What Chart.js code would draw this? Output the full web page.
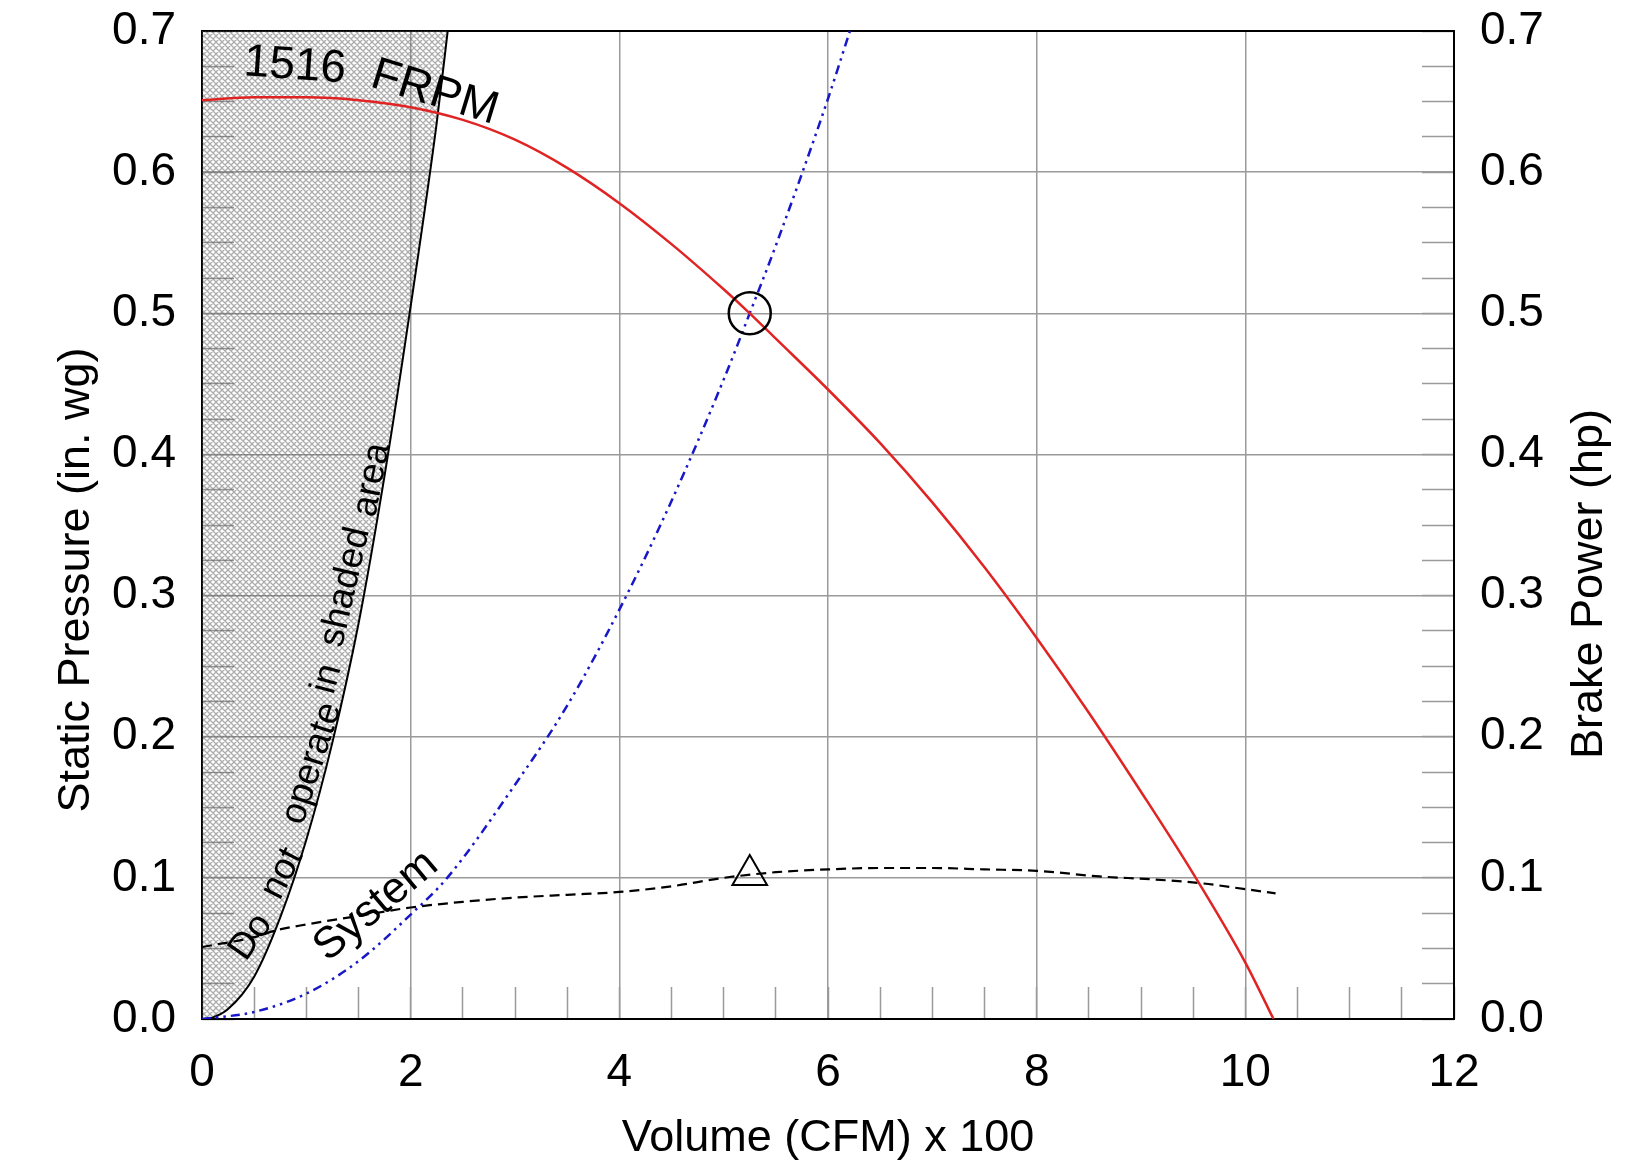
<!DOCTYPE html>
<html>
<head>
<meta charset="utf-8">
<script src="https://cdn.jsdelivr.net/npm/chart.js@4.4.1/dist/chart.umd.min.js"></script>
<style>
  html, body { margin: 0; padding: 0; background: #fff; }
</style>
</head>
<body>
<canvas id="chart" width="1632" height="1166"></canvas>
<script>
// Fan curve at 1516 RPM: volume (CFM x 100) vs static pressure (in. wg)
const fanCfm = [0, 0.5, 1, 1.5, 2, 2.5, 3, 3.5, 4, 4.5, 5, 5.25, 5.5, 6, 6.5, 7, 7.5, 8, 8.5, 9, 9.5, 10, 10.27];
const fanSp = [0.651, 0.653, 0.653, 0.651, 0.646, 0.637, 0.623, 0.603, 0.578, 0.549, 0.517, 0.5, 0.482, 0.446, 0.408, 0.366, 0.32, 0.27, 0.217, 0.161, 0.103, 0.04, 0];

// System curve
const sysCfm = [0, 0.5, 1, 1.5, 2, 2.35, 3, 3.5, 4, 4.5, 5, 5.25, 5.5, 6, 6.21];
const sysSp = [0, 0.005, 0.018, 0.041, 0.074, 0.1, 0.166, 0.222, 0.29, 0.367, 0.453, 0.5, 0.548, 0.652, 0.7];

// Brake power (hp), right axis
const bhpCfm = [0, 0.5, 0.72, 1, 1.5, 2, 2.5, 3, 3.5, 4, 4.5, 5, 5.5, 6, 6.5, 7, 7.5, 8, 8.6, 9.1, 9.6, 10, 10.29];
const bhp = [0.051, 0.058, 0.063, 0.067, 0.073, 0.079, 0.083, 0.086, 0.088, 0.09, 0.094, 0.1, 0.104, 0.106, 0.107, 0.107, 0.106, 0.105, 0.101, 0.099, 0.096, 0.092, 0.089];

// Edge of the "do not operate" region
const stallCfm = [0, 0.1, 0.25, 0.5, 0.75, 1, 1.25, 1.5, 1.75, 2, 2.25, 2.355];
const stallSp = [0, 0.001, 0.007, 0.03, 0.072, 0.127, 0.196, 0.28, 0.385, 0.505, 0.635, 0.7];

// Operating point
const opCfm = [5.25];
const opSp = [0.5];
const opBhp = [0.102];

const FONT = '"Liberation Sans", Arial, sans-serif';
const GRID = '#9a9a9a';

const pts = (xs, ys) => xs.map((v, i) => ({ x: v, y: ys[i] }));

// light crosshatch for the shaded area
function hatch() {
    const c = document.createElement('canvas');
    c.width = 6; c.height = 6;
    const g = c.getContext('2d');
    g.strokeStyle = 'rgba(90,90,90,0.5)';
    g.lineWidth = 1.3;
    g.beginPath();
    g.moveTo(-1, -1); g.lineTo(7, 7);
    g.moveTo(-1, 5); g.lineTo(1, 7);
    g.moveTo(5, -1); g.lineTo(7, 1);
    g.moveTo(-1, 7); g.lineTo(7, -1);
    g.moveTo(-1, 1); g.lineTo(1, -1);
    g.moveTo(5, 7); g.lineTo(7, 5);
    g.stroke();
    return g.createPattern(c, 'repeat');
}

// labels written along the curves (anchored in data units)
const curveLabels = [
    { text: '1516', x: 0.89, y: 0.675, rot: 4, size: 46 },
    { text: 'FRPM', x: 2.23, y: 0.656, rot: 17, size: 46 },
    { text: 'Do', x: 0.47, y: 0.058, rot: -55, size: 37 },
    { text: 'not', x: 0.77, y: 0.103, rot: -63, size: 37 },
    { text: 'operate', x: 1.055, y: 0.181, rot: -72, size: 37 },
    { text: 'in', x: 1.2, y: 0.241, rot: -75, size: 37 },
    { text: 'shaded', x: 1.375, y: 0.306, rot: -77, size: 37 },
    { text: 'area', x: 1.63, y: 0.382, rot: -79, size: 37 },
    { text: 'System', x: 1.668, y: 0.080, rot: -40, size: 44 },
];

const axisTitles = [
    { text: 'Volume (CFM) x 100', px: 828, py: 1151, rot: 0, size: 45 },
    { text: 'Static Pressure (in. wg)', px: 89, py: 580, rot: -90, size: 45 },
    { text: 'Brake Power (hp)', px: 1602, py: 584, rot: -90, size: 45 },
];

const notes = {
    id: 'notes',
    afterDatasetsDraw(chart) {
        const { ctx, scales: { x, y } } = chart;
        ctx.save();
        ctx.fillStyle = '#000';
        ctx.textAlign = 'center';
        ctx.textBaseline = 'middle';
        curveLabels.forEach(l => {
            ctx.save();
            ctx.translate(x.getPixelForValue(l.x), y.getPixelForValue(l.y));
            ctx.rotate(l.rot * Math.PI / 180);
            ctx.font = `${l.size}px ${FONT}`;
            ctx.fillText(l.text, 0, 0);
            ctx.restore();
        });
        ctx.restore();
    },
    afterDraw(chart) {
        const ctx = chart.ctx;
        ctx.save();
        ctx.fillStyle = '#000';
        ctx.textAlign = 'center';
        ctx.textBaseline = 'alphabetic';
        axisTitles.forEach(t => {
            ctx.save();
            ctx.translate(t.px, t.py);
            ctx.rotate(t.rot * Math.PI / 180);
            ctx.font = `${t.size}px ${FONT}`;
            ctx.fillText(t.text, 0, 0);
            ctx.restore();
        });
        ctx.restore();
    }
};

// fixed box sizes so the plot area lands where the reference has it
const fixW = w => (s => { s.width = w; s.paddingTop = 0; s.paddingBottom = 0; });
const fixH = h => (s => { s.height = h; s.paddingLeft = 0; s.paddingRight = 0; });
const minorGrid = { display: true, drawOnChartArea: false, drawTicks: true, tickLength: -32, tickColor: GRID, tickWidth: 1.5 };

Chart.defaults.font.family = FONT;
Chart.defaults.color = '#000';

new Chart(document.getElementById('chart').getContext('2d'), {
    type: 'line',
    data: {
        datasets: [
            { data: pts(opCfm, opSp), showLine: false, pointStyle: 'circle', pointRadius: 21,
              pointBorderWidth: 2.5, pointBorderColor: '#000', pointBackgroundColor: 'transparent', order: 0 },
            { data: pts(opCfm, opBhp), yAxisID: 'y2', showLine: false, pointStyle: 'triangle', pointRadius: 20,
              pointBorderWidth: 2, pointBorderColor: '#000', pointBackgroundColor: 'transparent', order: 0 },
            { data: pts(fanCfm, fanSp), borderColor: '#e02424', borderWidth: 2.5, pointRadius: 0,
              cubicInterpolationMode: 'monotone', order: 1 },
            { data: pts(sysCfm, sysSp), borderColor: '#1818c8', borderWidth: 2.5, borderDash: [9, 5, 2.5, 5, 2.5, 5],
              pointRadius: 0, cubicInterpolationMode: 'monotone', order: 2 },
            { data: pts(bhpCfm, bhp), yAxisID: 'y2', borderColor: '#000', borderWidth: 2.2, borderDash: [10, 6],
              pointRadius: 0, cubicInterpolationMode: 'monotone', order: 3 },
            { data: pts(stallCfm, stallSp), borderColor: '#000', borderWidth: 2, pointRadius: 0,
              cubicInterpolationMode: 'monotone', fill: 'end', backgroundColor: hatch(), order: 10 },
        ]
    },
    options: {
        responsive: false,
        animation: false,
        devicePixelRatio: 1,
        layout: { padding: { top: 31, left: 0, right: 0, bottom: 0 } },
        plugins: { legend: { display: false }, tooltip: { enabled: false } },
        scales: {
            x: {
                type: 'linear', position: 'bottom', min: 0, max: 12, weight: 1,
                ticks: { stepSize: 2, padding: 27, font: { size: 46 }, maxRotation: 0 },
                grid: { color: GRID, lineWidth: 1.5, drawTicks: false },
                border: { color: '#000', width: 2 },
                afterFit: fixH(147)
            },
            xMinor: {
                type: 'linear', position: 'bottom', min: 0, max: 12, weight: 0,
                ticks: { stepSize: 0.5, display: false },
                grid: minorGrid, border: { display: false },
                afterFit: fixH(0)
            },
            xTop: {
                type: 'linear', position: 'top', min: 0, max: 12,
                ticks: { display: false }, grid: { display: false },
                border: { color: '#000', width: 2 },
                afterFit: fixH(0)
            },
            y: {
                position: 'left', min: 0, max: 0.7, weight: 1,
                ticks: { stepSize: 0.1, padding: 26, font: { size: 46 }, callback: v => v.toFixed(1) },
                grid: { color: GRID, lineWidth: 1.5, drawTicks: false },
                border: { color: '#000', width: 2 },
                afterFit: fixW(202)
            },
            yMinor: {
                position: 'left', min: 0, max: 0.7, weight: 0,
                ticks: { stepSize: 0.025, display: false },
                grid: minorGrid, border: { display: false },
                afterFit: fixW(0)
            },
            y2: {
                position: 'right', min: 0, max: 0.7, weight: 1,
                ticks: { stepSize: 0.1, padding: 26, font: { size: 46 }, callback: v => v.toFixed(1) },
                grid: { drawOnChartArea: false, drawTicks: false },
                border: { color: '#000', width: 2 },
                afterFit: fixW(178)
            },
            y2Minor: {
                position: 'right', min: 0, max: 0.7, weight: 0,
                ticks: { stepSize: 0.025, display: false },
                grid: minorGrid, border: { display: false },
                afterFit: fixW(0)
            }
        }
    },
    plugins: [notes]
});
</script>
</body>
</html>
